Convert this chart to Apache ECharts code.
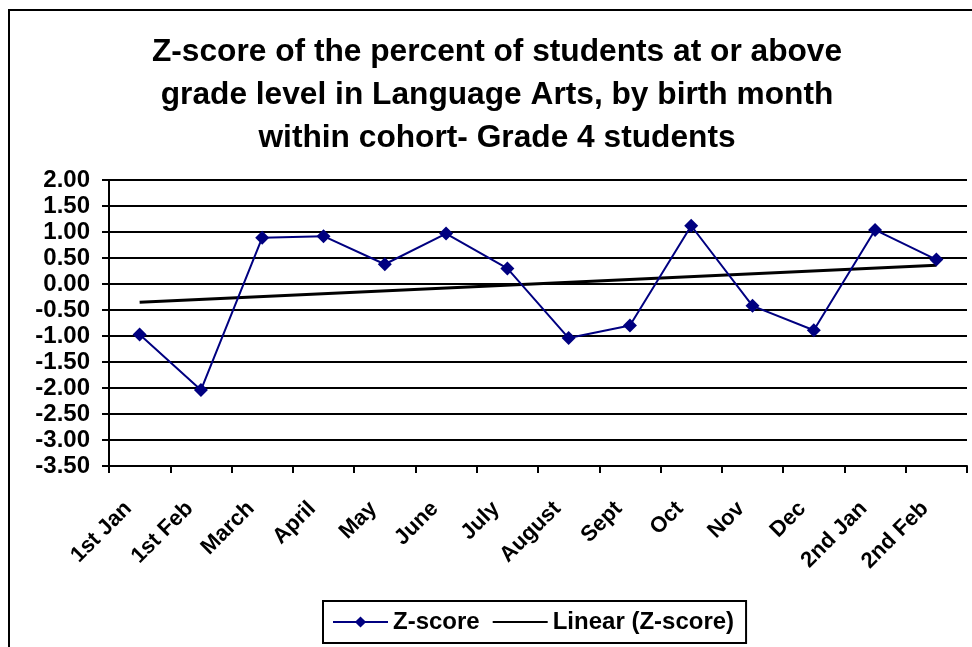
<!DOCTYPE html>
<html><head><meta charset="utf-8">
<script src="https://cdn.jsdelivr.net/npm/echarts@6/dist/echarts.min.js"></script>
<style>html,body{margin:0;padding:0;background:#fff}#c{width:972px;height:647px}</style>
</head><body><div id="c"></div>
<script>
var categories = ['1st Jan','1st Feb','March','April','May','June','July','August','Sept','Oct','Nov','Dec','2nd Jan','2nd Feb'];
var zscore = [-0.97,-2.04,0.89,0.92,0.38,0.97,0.30,-1.04,-0.80,1.12,-0.42,-0.89,1.04,0.47];
var trendEnds = [-0.35, 0.36];
var yTicks = [-3.5,-3,-2.5,-2,-1.5,-1,-0.5,0,0.5,1,1.5,2];
var titleText = 'Z-score of the percent of students at or above\ngrade level in Language Arts, by birth month\nwithin cohort- Grade 4 students';

var trend = categories.map(function(c,i){
  if(i===0) return trendEnds[0];
  if(i===categories.length-1) return trendEnds[1];
  return null;
});
var chart = echarts.init(document.getElementById('c'));
var font = 'Liberation Sans, Arial, sans-serif';
chart.setOption({
  animation:false,
  graphic:[
    {type:'rect',shape:{x:9,y:10,width:1000,height:700},style:{fill:'none',stroke:'#000',lineWidth:2},silent:true},
    {type:'text',x:497,y:31,silent:true,style:{text:titleText,textAlign:'center',textVerticalAlign:'top',
      fontFamily:font,fontWeight:'bold',fontSize:31.7,lineHeight:43,fill:'#000'}}
  ],
  grid:{left:109,right:5,top:180,bottom:181},
  legend:{bottom:4,left:323,itemGap:12,itemWidth:55,itemHeight:14,
    borderColor:'#000',borderWidth:2,padding:[9,12,9,9],
    textStyle:{fontFamily:font,fontWeight:'bold',fontSize:24,color:'#000'},
    data:[{name:'Z-score'},{name:'Linear (Z-score)',itemStyle:{opacity:0}}]},
  xAxis:{type:'category',data:categories,boundaryGap:true,
    axisLine:{onZero:false,lineStyle:{color:'#000',width:2}},
    axisTick:{show:true,length:7,lineStyle:{color:'#000',width:2}},
    axisLabel:{rotate:45,fontFamily:font,fontWeight:'bold',fontSize:22,color:'#000',margin:28,interval:0,padding:[0,16,0,0]}},
  yAxis:{type:'value',min:-3.5,max:2,interval:0.5,
    axisLine:{show:true,lineStyle:{color:'#000',width:2}},
    axisTick:{show:true,length:7,lineStyle:{color:'#000',width:2}},
    splitLine:{lineStyle:{color:'#000',width:2}},
    axisLabel:{fontFamily:font,fontWeight:'bold',fontSize:24,color:'#000',margin:19,
      formatter:function(v){return v.toFixed(2);}}},
  series:[
    {name:'Z-score',type:'line',data:zscore,symbol:'diamond',symbolSize:14,
      lineStyle:{color:'#000080',width:2},itemStyle:{color:'#000080'},z:3},
    {name:'Linear (Z-score)',type:'line',data:trend,connectNulls:true,symbol:'none',
      lineStyle:{color:'#000',width:3},itemStyle:{color:'#000'},z:2}
  ]
});
</script></body></html>
